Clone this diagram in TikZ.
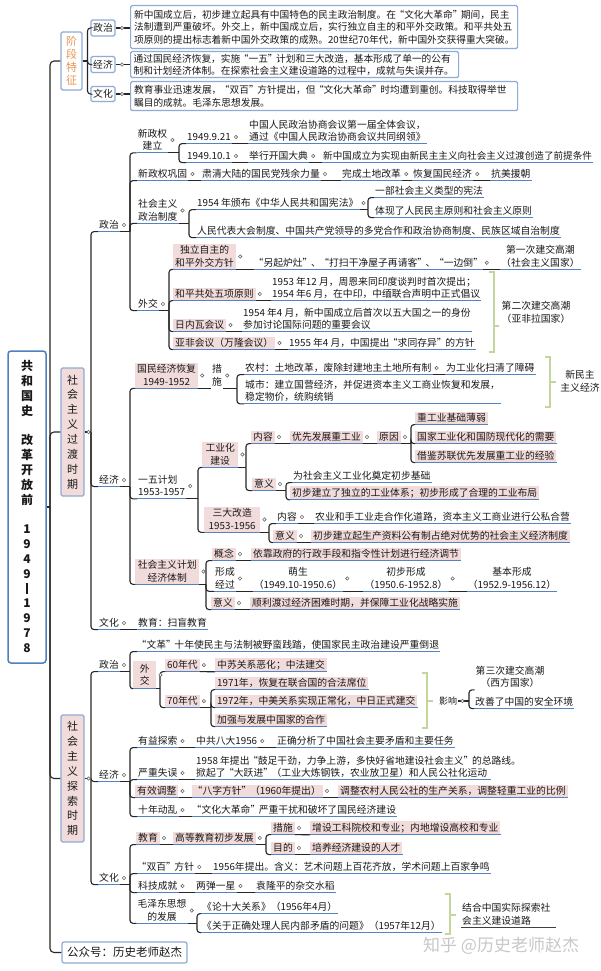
\documentclass[tikz,border=0pt]{standalone}
\usepackage{fontspec}
\setmainfont{Noto Sans CJK SC}
\usetikzlibrary{calc}
\definecolor{ulc}{RGB}{84,130,196}
\definecolor{pinkc}{RGB}{242,220,219}
\definecolor{boxc}{RGB}{141,172,214}
\definecolor{rootc}{RGB}{79,129,189}
\definecolor{greenc}{RGB}{195,214,155}
\definecolor{orangec}{RGB}{232,150,88}
\definecolor{dotc}{RGB}{105,105,105}
\definecolor{txtc}{RGB}{25,25,25}
\definecolor{wmc}{RGB}{200,200,200}
\newcommand\sst{\rule[-1.18pt]{0pt}{9.8pt}}
\newcommand\js{\rule[-1.32pt]{0pt}{11pt}}
\newcommand\rs{\rule[-1.44pt]{0pt}{12pt}}
\newcommand\LQ{\makebox[0.85em][r]{“}}
\newcommand\RQ{\makebox[0.85em][l]{”}}
\tikzset{
 tx/.style={anchor=west, inner xsep=1pt, inner ysep=1.5pt, text=txtc, font=\fontsize{9.8pt}{12.5pt}\selectfont},
 t/.style={tx, execute at begin node=\sst},
 m/.style={tx, align=left},
 mc/.style={tx, align=center},
 pk/.style={fill=pinkc, inner xsep=2pt},
 ul/.style={draw=ulc, line width=1.1pt},
 br/.style={draw=black!85, line width=1.1pt, rounded corners=3pt},
 gb/.style={draw=greenc, line width=1.4pt},
 dotst/.style={draw=dotc, fill=white, line width=0.6pt},
 bbox/.style={draw=boxc, line width=1.2pt, fill=white, rounded corners=1.5pt},
 para/.style={bbox, anchor=north west, align=left, inner xsep=3.5pt, inner ysep=0pt, text=txtc, font=\fontsize{9.7pt}{12.5pt}\selectfont},
 vbox/.style={bbox, minimum width=23pt, minimum height=128pt, inner sep=0pt, align=center, text=txtc, font=\fontsize{11pt}{14.9pt}\selectfont}
}
\newcommand\fan[3]{\draw[br] (#1.south east) -- (#2 |- #1.south);\foreach \kid in {#3}{\draw[br] (#2 |- #1.south) |- (\kid.south west);}}
\newcommand\row[1]{\foreach \pa/\pb in {#1}{\draw[br] (\pa.south east) -- (\pb.south west);}}
\newcommand\dts[1]{\foreach \pa in {#1}{\draw[dotst] ($(\pa.east)+(4pt,0)$) circle (1.7pt);}}
\begin{document}
\begin{tikzpicture}[x=1pt,y=-1pt]
\fill[white] (0,0) rectangle (600,971);
\useasboundingbox (0,0) rectangle (600,971);
% coordinates of brackets
\coordinate (T) at (50,0);
\coordinate (JB) at (87.5,0);
\coordinate (x91) at (91,0);
\coordinate (x130) at (130,0);
\coordinate (x160) at (160,0);
\coordinate (x169) at (169,0);
\coordinate (x179) at (179,0);
\coordinate (x189) at (189,0);
\coordinate (x197) at (197,0);
\coordinate (x198) at (198,0);
\coordinate (x206) at (206,0);
\coordinate (x211) at (211,0);
\coordinate (x237) at (237,0);
\coordinate (x246) at (246,0);
\coordinate (x266) at (266,0);
\coordinate (x269) at (269,0);
\coordinate (x286) at (286,0);
\coordinate (x368) at (368,0);
\coordinate (x411) at (411,0);
\coordinate (x469) at (469,0);

% ---------- boxes ----------
\node[draw=rootc, line width=1.5pt, rounded corners=3pt, fill=white, minimum width=38pt, minimum height=312pt, inner sep=0pt, align=center, text=txtc, font=\fontsize{12pt}{14.8pt}\selectfont\bfseries] (root) at (27,507)
 {\rs 共\\\rs 和\\\rs 国\\\rs 史\\\rs\\\rs 改\\\rs 革\\\rs 开\\\rs 放\\\rs 前\\\rs\\\rs 1\\\rs 9\\\rs 4\\\rs 9\\\rs\rule[-0.9pt]{1.5pt}{11pt}\\\rs 1\\\rs 9\\\rs 7\\\rs 8};
\node[bbox, minimum width=21pt, minimum height=58pt, inner sep=0pt, align=center, text=orangec, font=\fontsize{11pt}{13pt}\selectfont] (jd) at (71.5,61) {\js 阶\\\js 段\\\js 特\\\js 征};
\node[vbox, fill=pinkc] (gd) at (72.5,432) {\js 社\\\js 会\\\js 主\\\js 义\\\js 过\\\js 渡\\\js 时\\\js 期};
\node[vbox, fill=pinkc, minimum height=127pt] (ts) at (72.5,778.5) {\js 社\\\js 会\\\js 主\\\js 义\\\js 探\\\js 索\\\js 时\\\js 期};
\node[bbox, rounded corners=2pt, minimum height=21pt, inner xsep=5pt, inner ysep=0pt, text=txtc, font=\fontsize{11.5pt}{13pt}\selectfont] (gz) at (124.5,952.5) {公众号：历史老师赵杰};
\node[anchor=west, inner sep=0pt, text=wmc, font=\fontsize{17pt}{20pt}\selectfont] (wm) at (423,946) {知乎 @历史老师赵杰};

\node[bbox, minimum width=24pt, minimum height=16pt, inner sep=0pt, text=txtc, font=\fontsize{9.8pt}{12.5pt}\selectfont] (zz1) at (103,28) {\sst 政治};
\node[bbox, minimum width=24pt, minimum height=16pt, inner sep=0pt, text=txtc, font=\fontsize{9.8pt}{12.5pt}\selectfont] (zz2) at (103,64.5) {\sst 经济};
\node[bbox, minimum width=24pt, minimum height=15pt, inner sep=0pt, text=txtc, font=\fontsize{9.8pt}{12.5pt}\selectfont] (zz3) at (103,94) {\sst 文化};
\node[para, text width=380pt, minimum height=43pt] (bx1) at (130,5)
 {\sst 新中国成立后，初步建立起具有中国特色的民主政治制度。在\LQ 文化大革命\RQ 期间，民主\\
  \sst 法制遭到严重破坏。外交上，新中国成立后，实行独立自主的和平外交政策。和平共处五\\
  \sst 项原则的提出标志着新中国外交政策的成熟。20世纪70年代，新中国外交获得重大突破。};
\node[para, text width=322pt, inner xsep=3pt, minimum height=26pt] (bx2) at (130,51)
 {\sst 通过国民经济恢复，实施\LQ 一五\RQ 计划和三大改造，基本形成了单一的公有\\
  \sst 制和计划经济体制。在探索社会主义建设道路的过程中，成就与失误并存。};
\node[para, text width=380pt, minimum height=29pt] (bx3) at (130,81)
 {\sst 教育事业迅速发展，\LQ 双百\RQ 方针提出，但\LQ 文化大革命\RQ 时均遭到重创。科技取得举世\\
  \sst 瞩目的成就。毛泽东思想发展。};

% ---------- transition period: politics ----------
\node[t] (g1) at (98,225) {政治};
\node[mc, anchor=center] (n1) at (152.5,140) {\sst 新政权\\\sst 建立};
\node[t] (n2) at (186,137) {1949.9.21};
\node[m] (n3) at (248,130.75) {\sst 中国人民政治协商会议第一届全体会议，\\\sst 通过《中国人民政治协商会议共同纲领》};
\node[t] (n4) at (186,156) {1949.10.1};
\node[t] (n5) at (248,156) {举行开国大典};
\node[t, font=\fontsize{9.6pt}{12.5pt}\selectfont] (n6) at (322,156) {新中国成立为实现由新民主主义向社会主义过渡创造了前提条件};
\node[t] (n7) at (137,174) {新政权巩固};
\node[t] (n8) at (201,174) {肃清大陆的国民党残余力量};
\node[t] (n9) at (341,174) {完成土地改革};
\node[t] (n10) at (412,174) {恢复国民经济};
\node[t] (n11) at (490,174) {抗美援朝};
\node[m] (n12) at (137,210.5) {\sst 社会主义\\\sst 政治制度};
\node[t] (n13) at (196,203) {1954 年颁布《中华人民共和国宪法》};
\node[t] (n14) at (374,191) {一部社会主义类型的宪法};
\node[t] (n15) at (374,211) {体现了人民民主原则和社会主义原则};
\node[t] (n16) at (196,231) {人民代表大会制度、中国共产党领导的多党合作和政治协商制度、民族区域自治制度};
\node[t] (n17) at (137,304) {外交};
\node[mc,pk] (n18) at (173,256.5) {\sst 独立自主的\\\sst 和平外交方针};
\node[t] (n19) at (254,262.75) {\LQ 另起炉灶\RQ 、\LQ 打扫干净屋子再请客\RQ 、\LQ 一边倒\RQ};
\node[mc] (n20) at (500,256.5) {\sst 第一次建交高潮\\\sst （社会主义国家）};
\node[t,pk] (n21) at (173,294) {和平共处五项原则};
\node[m] (n22) at (271,287.75) {\sst 1953 年12 月，周恩来同印度谈判时首次提出；\\\sst 1954 年6 月，在中印，中缅联合声明中正式倡议};
\node[t,pk] (n23) at (173,325) {日内瓦会议};
\node[m] (n24) at (242,318.75) {\sst 1954 年4 月，新中国成立后首次以五大国之一的身份\\\sst 参加讨论国际问题的重要会议};
\node[t,pk] (n25) at (173,343) {亚非会议（万隆会议）};
\node[t] (n26) at (288,343) {1955 年4 月，中国提出\LQ 求同存异\RQ 的方针};
\node[mc, anchor=center] (n27) at (536,312.5) {\sst 第二次建交高潮\\\sst （亚非拉国家）};

% ---------- transition period: economy ----------
\node[t] (g2) at (98,480) {经济};
\node[mc,pk] (e1) at (135,375.5) {\sst 国民经济恢复\\\sst 1949-1952};
\node[mc] (e2) at (211,375.5) {\sst 措\\\sst 施};
\node[t] (e3) at (244,368) {农村：土地改革，废除封建地主土地所有制};
\node[t] (e4) at (445,368) {为工业化扫清了障碍};
\node[m] (e5) at (244,391) {\sst 城市：建立国营经济，并促进资本主义工商业恢复和发展，\\\sst 稳定物价，统购统销};
\node[mc, anchor=center] (e32) at (580,381.5) {\sst 新民主\\\sst 主义经济};
\node[m] (e6) at (137,486) {\sst 一五计划\\\sst 1953-1957};
\node[mc,pk,minimum width=36pt] (e7) at (202,454.5) {\sst 工业化\\\sst 建设};
\node[t,pk] (e8) at (251,437) {内容};
\node[t,pk] (e9) at (290,437) {优先发展重工业};
\node[t,pk] (e10) at (377,437) {原因};
\node[t,pk] (e11) at (415,418) {重工业基础薄弱};
\node[t,pk] (e12) at (415,437) {国家工业化和国防现代化的需要};
\node[t,pk] (e13) at (415,456) {借鉴苏联优先发展重工业的经验};
\node[t,pk] (e14) at (252,484) {意义};
\node[t] (e15) at (292,476) {为社会主义工业化奠定初步基础};
\node[t,pk] (e16) at (290,493) {初步建立了独立的工业体系；初步形成了合理的工业布局};
\node[mc,pk,minimum width=56pt] (e17) at (204,519.5) {\sst 三大改造\\\sst 1953-1956};
\node[t] (e18) at (276,517) {内容};
\node[t] (e19) at (314,517) {农业和手工业走合作化道路，资本主义工商业进行公私合营};
\node[t,pk] (e20) at (273,536) {意义};
\node[t,pk] (e21) at (311,536) {初步建立起生产资料公有制占绝对优势的社会主义经济制度};
\node[mc,pk,minimum width=64pt] (e22) at (135,571.5) {\sst 社会主义计划\\\sst 经济体制};
\node[t,pk] (e23) at (212,554) {概念};
\node[t,pk] (e24) at (251,554) {依靠政府的行政手段和指令性计划进行经济调节};
\node[m] (e25) at (214,578.5) {\sst 形成\\\sst 经过};
\node[mc,anchor=center] (e26) at (298,578.5) {\sst 萌生\\\sst （1949.10-1950.6）};
\node[mc,anchor=center] (e27) at (406,578.5) {\sst 初步形成\\\sst （1950.6-1952.8）};
\node[mc,anchor=center] (e28) at (512,578.5) {\sst 基本形成\\\sst （1952.9-1956.12）};
\node[t,pk] (e29) at (211,603) {意义};
\node[t,pk] (e30) at (250,603) {顺利渡过经济困难时期，并保障工业化战略实施};
\node[t] (g3) at (98,623) {文化};
\node[t] (e31) at (137,623) {教育：扫盲教育};

% ---------- exploration period ----------
\node[t] (s1) at (98,665) {政治};
\node[t] (s2) at (137,645) {\LQ 文革\RQ 十年使民主与法制被野蛮践踏，使国家民主政治建设严重倒退};
\node[mc,pk,minimum width=23pt,inner ysep=2.5pt] (s3) at (133,675) {\sst 外\\\sst 交};
\node[t,pk] (s4) at (165,665) {60年代};
\node[t,pk] (s5) at (215,665) {中苏关系恶化；中法建交};
\node[t,pk] (s6) at (165,701) {70年代};
\node[t,pk] (s7) at (215,683) {1971年，恢复在联合国的合法席位};
\node[t,pk] (s8) at (215,701) {1972年，中美关系实现正常化，中日正式建交};
\node[t,pk] (s9) at (215,720) {加强与发展中国家的合作};
\node[t,font=\fontsize{9pt}{11pt}\selectfont] (s10) at (438,701) {影响};
\node[mc,anchor=center] (s11) at (510,677) {\sst 第三次建交高潮\\\sst （西方国家）};
\node[t] (s12) at (474,702) {改善了中国的安全环境};
\node[t] (s13) at (98,775) {经济};
\node[t] (s14) at (137,741) {有益探索};
\node[t] (s15) at (195,741) {中共八大1956};
\node[t] (s16) at (276,741) {正确分析了中国社会主要矛盾和主要任务};
\node[t] (s17) at (137,773) {严重失误};
\node[m] (s18) at (195,766.75) {\sst 1958 年提出\LQ 鼓足干劲，力争上游，多快好省地建设社会主义\RQ 的总路线。\\\sst 掀起了\LQ 大跃进\RQ （工业大炼钢铁，农业放卫星）和人民公社化运动};
\node[t,pk] (s19) at (135,791) {有效调整};
\node[t,pk] (s20) at (192,791) {\LQ 八字方针\RQ （1960年提出）};
\node[t,pk] (s21) at (338,791) {调整农村人民公社的生产关系，调整轻重工业的比例};
\node[t] (s22) at (137,810) {十年动乱};
\node[t] (s23) at (192,810) {\LQ 文化大革命\RQ 严重干扰和破坏了国民经济建设};
\node[t] (s24) at (98,878) {文化};
\node[t,pk] (s25) at (136,838) {教育};
\node[t,pk] (s26) at (173,838) {高等教育初步发展};
\node[t,pk] (s27) at (271,828) {措施};
\node[t,pk] (s28) at (310,828) {增设工科院校和专业；内地增设高校和专业};
\node[t,pk] (s29) at (271,848) {目的};
\node[t,pk] (s30) at (310,848) {培养经济建设的人才};
\node[t] (s31) at (137,867) {\LQ 双百\RQ 方针};
\node[t] (s32) at (212,867) {1956年提出。含义：艺术问题上百花齐放，学术问题上百家争鸣};
\node[t] (s33) at (137,886) {科技成就};
\node[t] (s34) at (195,886) {两弹一星};
\node[t] (s35) at (255,886) {袁隆平的杂交水稻};
\node[mc,anchor=center] (s36) at (162,910.5) {\sst 毛泽东思想\\\sst 的发展};
\node[t] (s37) at (201,907) {《论十大关系》（1956年4月）};
\node[t] (s38) at (201,926) {《关于正确处理人民内部矛盾的问题》（1957年12月）};
\node[m] (s39) at (461,914.5) {\sst 结合中国实际探索社\\\sst 会主义建设道路};

% ---------- underlines ----------
\foreach \pa in {g1,n1,n2,n3,n4,n5,n6,n7,n8,n9,n10,n11,n12,n13,n14,n15,n16,n17,n18,n19,n20,n21,n22,n23,n24,n25,n26,
 g2,e1,e3,e4,e5,e6,e7,e8,e9,e10,e11,e12,e13,e14,e15,e16,e17,e18,e19,e20,e21,e22,e23,e24,e25,e26,e27,e28,e29,e30,g3,e31,
 s1,s2,s3,s4,s5,s6,s7,s8,s9,s12,s13,s14,s15,s16,s17,s19,s20,s21,s22,s23,s24,s25,s26,s27,s28,s29,s30,s31,s32,s33,s34,s35,s36,s37,s38}
 {\draw[ul] (\pa.south west) -- (\pa.south east);}
\draw[ul] (s18.south west) -- ($(s18.south west)+(296pt,0)$);
\draw[draw=black!75, line width=1.1pt] (s39.south west) -- ($(s39.south west)+(95pt,0)$);

% ---------- connectors ----------
\draw[br] (root.east) -- (T |- root.east);
\foreach \pa in {jd,gd,ts,gz} {\draw[br, rounded corners=4pt] (T |- root.east) |- (\pa.west);}
\draw[br] (jd.east) -- (JB |- jd.east);
\foreach \pa in {zz1,zz2,zz3} {\draw[br] (JB |- jd.east) |- (\pa.west);}
\draw[br] (zz1.east) -- (bx1.west |- zz1.east);
\draw[br] (zz2.east) -- (bx2.west |- zz2.east);
\draw[br] (zz3.east) -- (bx3.west |- zz3.east);
\draw[br] (gd.east) -- (x91 |- gd.east);
\foreach \pa in {g1,g2,g3} {\draw[br] (x91 |- gd.east) |- (\pa.south west);}
\draw[br] (ts.east) -- (x91 |- ts.east);
\foreach \pa in {s1,s13,s24} {\draw[br] (x91 |- ts.east) |- (\pa.south west);}

\fan{g1}{x130}{n1,n7,n12,n17}
\fan{n1}{x179}{n2,n4}
\fan{n12}{x189}{n13,n16}
\fan{n13}{x368}{n14,n15}
\fan{n17}{x169}{n18,n21,n23,n25}
\fan{g2}{x130}{e1,e6,e22}
\fan{e2}{x237}{e3,e5}
\fan{e6}{x198}{e7,e17}
\fan{e7}{x246}{e8,e14}
\fan{e10}{x411}{e11,e12,e13}
\fan{e14}{x286}{e15,e16}
\fan{e17}{x269}{e18,e20}
\fan{e22}{x206}{e23,e25,e29}
\fan{s1}{x130}{s2,s3}
\fan{s3}{x160}{s4,s6}
\fan{s6}{x211}{s7,s8,s9}
\fan{s13}{x130}{s14,s17,s19,s22}
\fan{s24}{x130}{s25,s31,s33,s36}
\fan{s26}{x266}{s27,s29}
\fan{s36}{x197}{s37,s38}
\draw[br] (s10.east) -- (x469 |- s10.east);
\foreach \pa in {s11,s12} {\draw[br] (x469 |- s10.east) |- (\pa.south west);}

\row{n2/n3,n4/n5,n5/n6,n7/n8,n8/n9,n9/n10,n10/n11,n18/n19,n19/n20,n21/n22,n23/n24,n25/n26,
 e1/e2,e3/e4,e8/e9,e9/e10,e18/e19,e20/e21,e23/e24,e25/e26,e26/e27,e27/e28,e29/e30,g3/e31,
 s4/s5,s14/s15,s15/s16,s17/s18,s19/s20,s20/s21,s22/s23,s25/s26,s27/s28,s29/s30,s31/s32,s33/s34,s34/s35}

% ---------- dots ----------
\foreach \pa in {zz1,zz2,zz3} {\draw[dotst] ($(\pa.east)+(6.5pt,0)$) circle (1.7pt);}
\dts{gd,ts,g1,n1,n2,n4,n5,n7,n8,n9,n10,n12,n13,n17,n18,n19,n21,n23,n25,
 g2,e1,e2,e3,e6,e7,e8,e9,e10,e14,e17,e18,e20,e22,e23,e25,e26,e27,e29,g3,
 s1,s3,s4,s6,s10,s13,s14,s15,s17,s19,s20,s22,s24,s25,s26,s27,s29,s31,s33,s34,s36}

% ---------- summary brackets ----------
\draw[gb] (489,272) -- (494,272) -- (494,352) -- (489,352);
\draw[gb] (494,326) -- (499,326);
\draw[gb] (545,357) -- (550,357) -- (550,407) -- (545,407);
\draw[gb] (550,382) -- (556,382);
\draw[gb] (422,673) -- (427,673) -- (427,728) -- (422,728);
\draw[gb] (427,701) -- (433,701);
\draw[gb] (445,894) -- (450,894) -- (450,934) -- (445,934);
\draw[gb] (450,915) -- (456,915);
\end{tikzpicture}
\end{document}
